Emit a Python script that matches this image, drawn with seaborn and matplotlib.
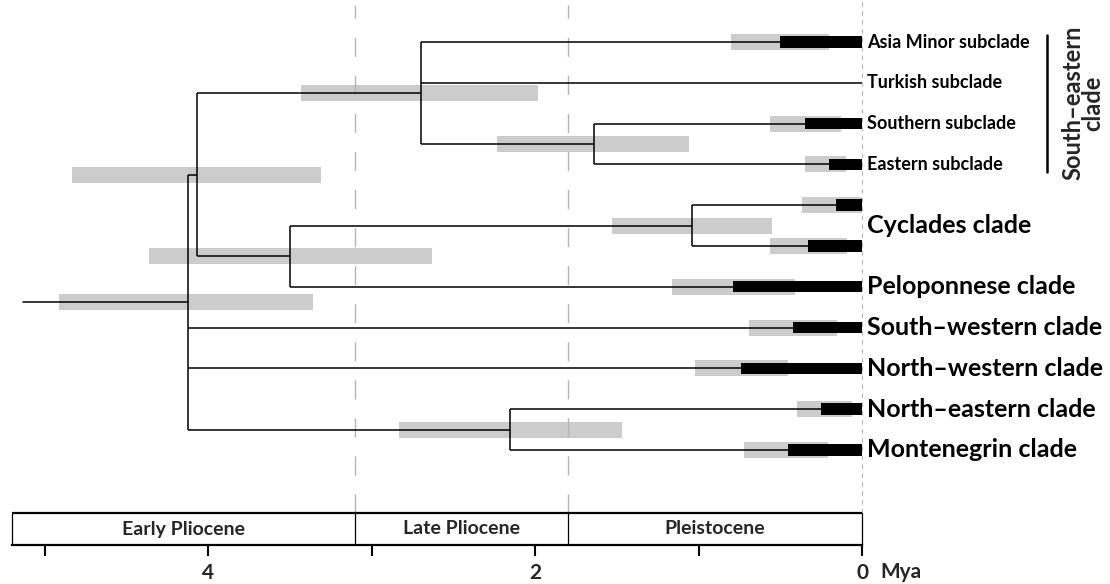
import numpy as np
import seaborn as sns
import matplotlib.pyplot as plt

# Tips, top to bottom
tips = ['Asia Minor', 'Turkish', 'Southern', 'Eastern', 'Cyclades 1', 'Cyclades 2',
        'Peloponnese', 'South-western', 'North-western', 'North-eastern', 'Montenegrin']
# HPD intervals at the tips (Mya): grey = old..young, black = black_old..0
tip_hpd_old = [0.80, np.nan, 0.56, 0.35, 0.37, 0.56, 1.16, 0.69, 1.02, 0.40, 0.72]
tip_hpd_young = [0.20, np.nan, 0.13, 0.10, 0.00, 0.09, 0.41, 0.15, 0.45, 0.06, 0.21]
tip_black_old = [0.50, np.nan, 0.35, 0.20, 0.16, 0.33, 0.79, 0.42, 0.74, 0.25, 0.45]

# Internal nodes
node_children = {
    'root': ['A', 'South-western', 'North-western', 'NEM'],
    'A': ['SE', 'CP'],
    'SE': ['Asia Minor', 'Turkish', 'SE2'],
    'SE2': ['Southern', 'Eastern'],
    'CP': ['CYC', 'Peloponnese'],
    'CYC': ['Cyclades 1', 'Cyclades 2'],
    'NEM': ['North-eastern', 'Montenegrin'],
}
node_age = {'root': 4.12, 'A': 4.07, 'SE': 2.70, 'SE2': 1.64, 'CP': 3.50, 'CYC': 1.04, 'NEM': 2.15}
node_hpd = {'root': (4.91, 3.36), 'A': (4.83, 3.31), 'SE': (3.43, 1.98), 'SE2': (2.23, 1.06),
            'CP': (4.36, 2.63), 'CYC': (1.53, 0.55), 'NEM': (2.83, 1.47)}
root_stem = 5.13

# Labels
subclade_labels = {'Asia Minor': 'Asia Minor subclade', 'Turkish': 'Turkish subclade',
                   'Southern': 'Southern subclade', 'Eastern': 'Eastern subclade'}
clade_labels = {('Cyclades 1', 'Cyclades 2'): 'Cyclades clade',
                ('Peloponnese',): 'Peloponnese clade',
                ('South-western',): 'South–western clade',
                ('North-western',): 'North–western clade',
                ('North-eastern',): 'North–eastern clade',
                ('Montenegrin',): 'Montenegrin clade'}
epochs = ['Early Pliocene', 'Late Pliocene', 'Pleistocene']
epoch_bounds = [5.2, 3.1, 1.8, 0.0]
tick_values = [5, 4, 3, 2, 1, 0]
tick_labels = ['', '4', '', '2', '', '0']

sns.set_theme(style='white')
plt.rcParams['font.family'] = ['Lato', 'DejaVu Sans']

fig = plt.figure(figsize=(11.1, 5.84), dpi=100)
ax = fig.add_axes([0, 39 / 584, 1, 545 / 584])
ax.set_xlim(862 / 163.5, -248 / 163.5)
ax.set_ylim(12.33, -1.03)

# layout rows
rows = {t: i for i, t in enumerate(tips)}


def place(n):
    if n in rows:
        return rows[n]
    r = [place(c) for c in node_children[n]]
    rows[n] = (min(r) + max(r)) / 2
    return rows[n]


place('root')


def age(n):
    return node_age.get(n, 0.0)


grey = '#cccccc'
# node HPD bars
for n, (old, young) in node_hpd.items():
    ax.barh(rows[n], old - young, left=young, height=0.39, color=grey, lw=0, zorder=1)
# tip HPD bars
for i, t in enumerate(tips):
    if np.isnan(tip_hpd_old[i]):
        continue
    ax.barh(i, tip_hpd_old[i] - tip_hpd_young[i], left=tip_hpd_young[i], height=0.39,
            color=grey, lw=0, zorder=1)
    ax.barh(i, tip_black_old[i], left=0, height=0.28, color='black', lw=0, zorder=4)

# epoch dashed lines
xt = ax.get_xaxis_transform()
box_top = 32 / 545
for b in epoch_bounds[1:3]:
    ax.plot([b, b], [box_top, 0.991], transform=xt, color='#b5b5b5', lw=1,
            dashes=(13.7, 13.7), zorder=2)
ax.plot([0, 0], [box_top, 1.0], transform=xt, color='#b5b5b5', lw=0.8,
        dashes=(4, 4), zorder=2)

# branches
lw = 1.1
for n, ch in node_children.items():
    a = node_age[n]
    cr = [rows[c] for c in ch]
    ax.plot([a, a], [min(cr), max(cr)], color='black', lw=lw, zorder=3, solid_capstyle='butt')
    for c in ch:
        ax.plot([a, age(c)], [rows[c], rows[c]], color='black', lw=lw, zorder=3,
                solid_capstyle='butt')
ax.plot([root_stem, node_age['root']], [rows['root'], rows['root']], color='black', lw=lw,
        zorder=3)

# tip labels
for t, lab in subclade_labels.items():
    ax.text(-0.03, rows[t], lab, ha='left', va='center', fontsize=13, fontweight='bold',
            color='black')
for ts, lab in clade_labels.items():
    r = np.mean([rows[t] for t in ts])
    ax.text(-0.03, r, lab, ha='left', va='center', fontsize=18, fontweight='bold',
            color='black')

# South-eastern bracket
se_rows = [rows[t] for t in subclade_labels]
ax.plot([-1.13, -1.13], [min(se_rows) - 0.17, max(se_rows) + 0.19], color='black', lw=1.8)
ax.text(-1.35, np.mean(se_rows), 'South–eastern\nclade', rotation=90, ha='center',
        va='center', fontsize=17, fontweight='bold', linespacing=0.85)

# epoch box
ax.plot([epoch_bounds[0], epoch_bounds[-1]], [box_top, box_top], transform=xt,
        color='black', lw=1.6, solid_capstyle='butt')
for b in epoch_bounds:
    ax.plot([b, b], [0, box_top], transform=xt, color='black', lw=0.9)
for i, e in enumerate(epochs):
    ax.text((epoch_bounds[i] + epoch_bounds[i + 1]) / 2, box_top / 2, e, transform=xt,
            ha='center', va='center', fontsize=14, fontweight='bold')

# axis
for s in ['top', 'left', 'right']:
    ax.spines[s].set_visible(False)
ax.spines['bottom'].set_bounds(epoch_bounds[0], 0)
ax.spines['bottom'].set_linewidth(1.6)
ax.spines['bottom'].set_color('black')
ax.set_yticks([])
ax.set_xticks(tick_values)
ax.set_xticklabels(tick_labels)
ax.tick_params(axis='x', direction='out', length=8, width=1.5, color='black', pad=5,
               labelsize=15, bottom=True)
for lbl in ax.get_xticklabels():
    lbl.set_fontweight('bold')
fig.text(880 / 1110, 12 / 584, 'Mya', ha='left', va='center', fontsize=15, fontweight='bold')

fig.savefig('out.png', dpi=100)
